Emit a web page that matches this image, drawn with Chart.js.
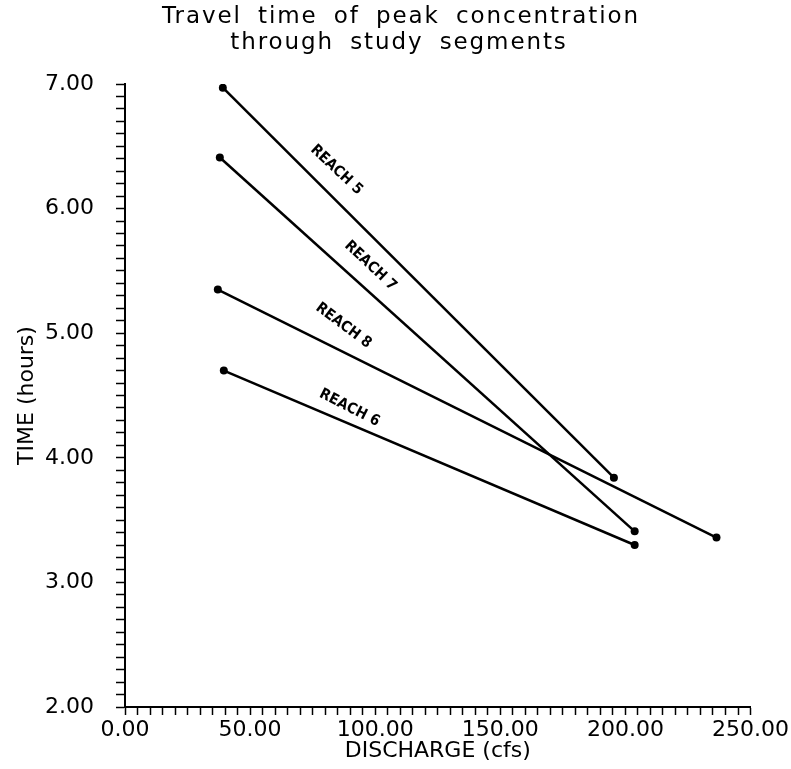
<!DOCTYPE html>
<html>
<head>
<meta charset="utf-8">
<script src="https://cdn.jsdelivr.net/npm/chart.js@4/dist/chart.umd.min.js"></script>
<style>
  body { margin: 0; background: #fff; }
  canvas { display: block; }
</style>
</head>
<body>
<canvas id="travelChart" width="791" height="769"></canvas>
<script>
// DATA
let reachNames = ["REACH 5", "REACH 7", "REACH 8", "REACH 6"];
let reach5Discharge = [39.1, 195.4], reach5Time = [6.97, 3.84];
let reach7Discharge = [37.9, 203.7], reach7Time = [6.41, 3.41];
let reach8Discharge = [37.1, 236.4], reach8Time = [5.35, 3.36];
let reach6Discharge = [39.5, 203.7], reach6Time = [4.70, 3.30];

// where each reach name sits (in axis units) and its slant in degrees
let labelDischarge = [84.5, 98.1, 87.3, 89.7];
let labelTime = [6.31, 5.54, 5.06, 4.40];
let labelAngle = [43, 43, 37, 27];

let titleLines = ["Travel time of peak concentration", "through study segments"];
let xTitle = "DISCHARGE (cfs)";
let yTitle = "TIME (hours)";

let allDischarge = [reach5Discharge, reach7Discharge, reach8Discharge, reach6Discharge];
let allTime = [reach5Time, reach7Time, reach8Time, reach6Time];

let datasets = [];
for (i = 0; i < reachNames.length; i++) {
    let pts = [];
    for (j = 0; j < allDischarge[i].length; j++) {
        pts.push({ x: allDischarge[i][j], y: allTime[i][j] });
    }
    datasets.push({
        label: reachNames[i],
        data: pts,
        showLine: true,
        borderColor: "#000",
        borderWidth: 2.5,
        pointRadius: 4,
        pointBackgroundColor: "#000",
        pointBorderWidth: 0
    });
}

// plotter-style title, drawn with a bit of extra spacing
let titlePlugin = {
    id: "plotTitle",
    afterDraw(chart) {
        let ctx = chart.ctx;
        ctx.save();
        ctx.fillStyle = "#000";
        ctx.font = "23px 'DejaVu Sans'";
        ctx.letterSpacing = "1.9px";
        ctx.wordSpacing = "7px";
        ctx.textAlign = "center";
        ctx.textBaseline = "middle";
        ctx.fillText(titleLines[0], 401, 17);
        ctx.fillText(titleLines[1], 399, 43);
        ctx.restore();
    }
};

// reach names along the lines
let reachLabelPlugin = {
    id: "reachLabels",
    afterDatasetsDraw(chart) {
        let ctx = chart.ctx;
        let xs = chart.scales.x, ys = chart.scales.y;
        ctx.save();
        ctx.fillStyle = "#000";
        ctx.font = "bold 15px 'DejaVu Sans Condensed', 'DejaVu Sans'";
        ctx.textAlign = "center";
        ctx.textBaseline = "middle";
        for (i = 0; i < reachNames.length; i++) {
            ctx.save();
            ctx.translate(xs.getPixelForValue(labelDischarge[i]), ys.getPixelForValue(labelTime[i]));
            ctx.rotate(labelAngle[i] * Math.PI / 180);
            ctx.fillText(reachNames[i], 0, 0);
            ctx.restore();
        }
        ctx.restore();
    }
};

let tickFont = { family: "'DejaVu Sans'", size: 22 };

let ctx = document.getElementById("travelChart").getContext("2d");
let travelChart = new Chart(ctx, {
    type: "scatter",
    data: { datasets: datasets },
    options: {
        responsive: false,
        animation: false,
        layout: { padding: { top: 84, right: 39, left: 0, bottom: 0 } },
        plugins: {
            legend: { display: false },
            tooltip: { enabled: false }
        },
        scales: {
            x: {
                type: "linear",
                min: 0,
                max: 250,
                afterFit(scale) { scale.height = 62; },
                border: { display: true, color: "#000", width: 2 },
                grid: { drawOnChartArea: false, drawTicks: true, tickLength: 8, tickColor: "#000", tickWidth: 1.5 },
                ticks: {
                    stepSize: 5,
                    autoSkip: false,
                    maxRotation: 0,
                    padding: 2,
                    color: "#000",
                    font: tickFont,
                    callback: (v) => (Math.abs(v % 50) < 1e-6 ? v.toFixed(2) : "")
                },
                title: {
                    display: true,
                    text: xTitle,
                    color: "#000",
                    font: { family: "'DejaVu Sans'", size: 22 },
                    padding: { top: 0, bottom: 5 }
                }
            },
            y: {
                type: "linear",
                min: 2,
                max: 7,
                afterFit(scale) { scale.width = 125; },
                border: { display: true, color: "#000", width: 2 },
                grid: { drawOnChartArea: false, drawTicks: true, tickLength: 9, tickColor: "#000", tickWidth: 1.5 },
                ticks: {
                    stepSize: 0.1,
                    autoSkip: false,
                    padding: 22,
                    color: "#000",
                    font: tickFont,
                    callback: (v) => (Math.abs(v - Math.round(v)) < 1e-6 ? v.toFixed(2) : "")
                },
                title: {
                    display: true,
                    text: yTitle,
                    color: "#000",
                    font: { family: "'DejaVu Sans'", size: 22 },
                    padding: { top: 14, bottom: 0 }
                }
            }
        }
    },
    plugins: [titlePlugin, reachLabelPlugin]
});
</script>
</body>
</html>
